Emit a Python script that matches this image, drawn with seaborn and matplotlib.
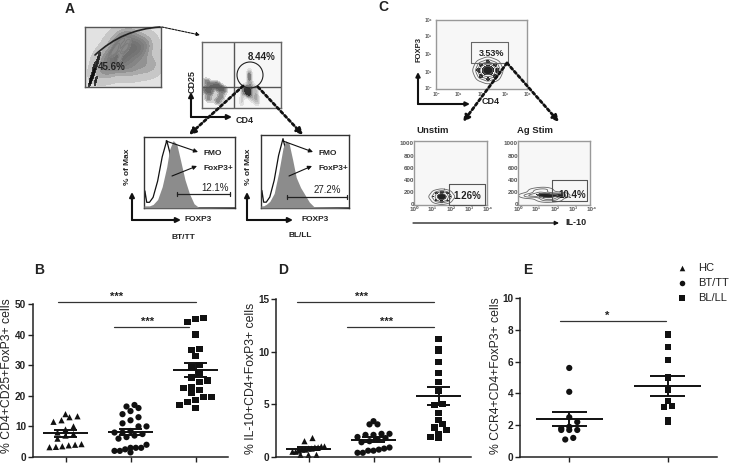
import matplotlib
matplotlib.use("Agg")
import matplotlib.pyplot as plt
import seaborn as sns
import pandas as pd

sns.set_style("ticks")
plt.rcParams['font.family'] = ['Liberation Sans', 'DejaVu Sans']

W, H = 729, 465

groups = ['HC', 'BT/TT', 'BL/LL']
markers = {'HC': '^', 'BT/TT': 'o', 'BL/LL': 's'}

# panel B
b_hc = [14, 13.3, 13, 12, 11.5, 10, 9, 8, 7.5, 7, 6, 4.2, 4, 3.5, 3.3, 3.2, 3.8]
b_bt = [17, 16.5, 16, 15, 14, 13, 12, 11, 10, 10, 8.5, 8, 8, 7.5, 7, 6.5, 6, 4, 3, 3, 3, 2.5, 2, 2, 1.5]
b_bl = [45.5, 45, 44, 40, 35.3, 35, 33, 30, 29.5, 27.5, 26, 25, 24.5, 23, 22.5, 22, 21, 19.5, 19.5, 18.5, 18, 17, 16]
b_mean = [7.7, 8.2, 28.5]
b_sem = [1.05, 1.05, 2.2]

# panel D
d_hc = [1.8, 1.5, 1.0, 1, 0.9, 0.9, 0.8, 0.8, 0.7, 0.7, 0.6, 0.5, 0.5, 0.2, 0.2, 0.2]
d_bt = [3.4, 3.1, 3.1, 2.2, 2.2, 2.1, 2.1, 1.9, 1.8, 1.7, 1.5, 1.4, 0.9, 0.8, 0.7, 0.6, 0.6, 0.4, 0.4]
d_bl = [11.2, 10.2, 10.1, 9, 8, 7.1, 6.3, 5, 4.9, 4.2, 3.5, 3.1, 2.8, 2.6, 2.2, 1.9, 1.8]
d_mean = [0.8, 1.65, 5.8]
d_sem = [0.15, 0.25, 0.85]

# panel E
e_bt = [5.6, 4.1, 2.5, 2.2, 1.9, 1.8, 1.7, 1.7, 1.7, 1.2, 1.1]
e_bl = [7.7, 6.9, 6.1, 5.0, 4.2, 3.5, 3.2, 3.15, 2.3, 2.2]
e_mean = [2.37, 4.45]
e_sem = [0.45, 0.62]

# histogram outlines of panel A
hist_x = [0, 1, 3, 6, 10, 15, 20, 25, 28, 32, 36, 40, 45, 50, 55, 60, 100]
fmo_y = [3, 24, 8, 8, 15, 38, 72, 95, 80, 50, 25, 10, 4, 1, 0, 0, 0]
tt_y = [3, 3, 3, 3, 5, 12, 30, 58, 82, 95, 90, 68, 40, 20, 6, 1, 0]
ll_y = [3, 3, 3, 5, 9, 20, 48, 82, 92, 88, 66, 42, 28, 18, 8, 2, 0]

# samples behind the flow contour plots (x, y in 0-100)
a1_bg_x = [30, 45, 55, 70, 85, 60, 40, 50, 65, 25, 75, 48]
a1_bg_y = [50, 75, 85, 55, 35, 30, 40, 60, 70, 25, 70, 45]
a1_lobe_x = [35, 42, 50, 55, 45, 40, 50, 58]
a1_lobe_y = [55, 70, 80, 65, 45, 60, 62, 78]
a1_gate_x = [7, 10, 13, 16, 8, 12, 18, 14, 11]
a1_gate_y = [8, 18, 28, 40, 14, 34, 50, 10, 24]
a2_x = [59, 60, 52, 68, 60, 50, 70, 60, 51, 69, 60, 57, 63, 56, 64]
a2_y = [24, 22, 30, 28, 40, 8, 8, 48, 20, 18, 54, 26, 32, 28, 14]
a2_low_x = [4, 12, 22, 8, 20, 6, 18, 24, 10, 28]
a2_low_y = [28, 32, 30, 14, 10, 40, 36, 18, 24, 28]
c1_x = [57, 57, 57, 46, 68, 57, 57, 49, 65, 49, 65]
c1_y = [27, 27, 27, 27, 27, 14, 40, 36, 18, 18, 36]
c2_x = [38, 38, 38, 26, 50, 38, 38, 30, 46, 30, 46]
c2_y = [13, 13, 13, 13, 13, 5, 21, 19, 7, 7, 19]
c3_x = [38, 38, 40, 22, 54, 36, 38, 26, 50, 12, 60]
c3_y = [15, 15, 15, 16, 15, 8, 24, 22, 9, 14, 16]

fig = plt.figure(figsize=(W / 100, H / 100), dpi=100)


def px_axes(left, top, right, bottom):
    return fig.add_axes([left / W, 1 - bottom / H, (right - left) / W, (bottom - top) / H])


def column_offsets(vals, bin_h, step):
    # graphpad style: values in one bin sit side by side around the centre
    bins = {}
    for v in sorted(vals):
        bins.setdefault(round(v / bin_h), []).append(v)
    ys, xs = [], []
    for row in bins.values():
        n = len(row)
        # wide rows get squeezed so they stay inside the mean line
        s = min(step, 4 * step / max(n - 1, 1))
        for k, v in enumerate(row):
            ys.append(v)
            xs.append((k - (n - 1) / 2) * s)
    return xs, ys


def scatter_panel(box, names, series, means, sems, ymax, ticks, ylabel, label_x, label_y, bin_h):
    ax = px_axes(*box)
    n = len(names)
    step = 8 / ((box[2] - box[0]) / n)
    frames = []
    for i, (name, vals) in enumerate(zip(names, series)):
        xs, ys = column_offsets(vals, bin_h, step)
        frames.append(pd.DataFrame({'pos': [i + x for x in xs], 'value': ys, 'group': name}))
    sns.scatterplot(data=pd.concat(frames), x='pos', y='value', style='group', markers=markers,
                    color='#111111', s=20, linewidth=0, legend=False, ax=ax, clip_on=False)
    for i, (m, s) in enumerate(zip(means, sems)):
        ax.hlines(m, i - 0.34, i + 0.34, color='#111111', lw=1.4, zorder=5)
        ax.hlines([m - s, m + s], i - 0.18, i + 0.18, color='#111111', lw=1.4, zorder=5)
        ax.vlines(i, m - s, m + s, color='#111111', lw=1.4, zorder=5)
    ax.set_xlim(-0.5, n - 0.5)
    ax.set_ylim(0, ymax)
    ax.set_xticks(range(n))
    ax.set_xticklabels([])
    ax.set_yticks(ticks)
    ax.set_xlabel('')
    ax.set_ylabel(ylabel, fontsize=8.8, color='#222222')
    ax.yaxis.set_label_coords((label_x - box[0]) / (box[2] - box[0]),
                              (box[3] - label_y) / (box[3] - box[1]))
    ax.tick_params(axis='both', length=3.5, width=1.0, pad=1.5, color='#222222')
    for lab in ax.get_yticklabels():
        lab.set_fontsize(7.2)
        lab.set_fontweight('bold')
        lab.set_color('#222222')
    sns.despine(ax=ax)
    for side in ['left', 'bottom']:
        ax.spines[side].set_linewidth(1.1)
        ax.spines[side].set_color('#222222')
    ax.patch.set_alpha(0)
    return ax


scatter_panel((33, 304, 228, 457), groups, [b_hc, b_bt, b_bl], b_mean, b_sem, 50,
              [0, 10, 20, 30, 40, 50], '% CD4+CD25+FoxP3+ cells', 13, 376, 3)
scatter_panel((276, 299, 471, 457), groups, [d_hc, d_bt, d_bl], d_mean, d_sem, 15,
              [0, 5, 10, 15], '% IL-10+CD4+FoxP3+ cells', 257, 378, 0.75)
scatter_panel((520, 298, 717, 457), groups[1:], [e_bt, e_bl], e_mean, e_sem, 10,
              [0, 2, 4, 6, 8, 10], '% CCR4+CD4+FoxP3+ cells', 502, 376, 0.5)


def flow_box(box, edge='#777777', lw=1.0):
    ax = px_axes(*box)
    ax.set_facecolor('#f7f7f7')
    for sp in ax.spines.values():
        sp.set_color(edge)
        sp.set_linewidth(lw)
    return ax


def finish_box(ax):
    ax.set_xlim(0, 100)
    ax.set_ylim(0, 100)
    ax.set_xticks([])
    ax.set_yticks([])
    ax.set_xlabel('')
    ax.set_ylabel('')


full = ((0, 100), (0, 100))
bg_cmap = sns.blend_palette(['#d8d8d8', '#8a8a8a', '#6e6e6e'], as_cmap=True)
low_cmap = sns.blend_palette(['#e4e4e4', '#8a8a8a', '#5a5a5a'], as_cmap=True)
dark_cmap = sns.blend_palette(['#444444', '#000000'], as_cmap=True)

# A, first gate plot
ax = flow_box((85, 27, 161, 87), edge='#555555')
ax.set_facecolor('#e2e2e2')
sns.kdeplot(x=a1_bg_x, y=a1_bg_y, fill=True, cmap=bg_cmap, levels=8, thresh=0.02, bw_adjust=1.0,
            ax=ax, clip=full)
sns.kdeplot(x=a1_lobe_x, y=a1_lobe_y, fill=True, color='white', levels=[0.3, 1], bw_adjust=0.8, alpha=1, ax=ax, clip=full)
sns.kdeplot(x=a1_lobe_x, y=a1_lobe_y, color='#777777', levels=4, thresh=0.3, bw_adjust=0.8, linewidths=0.5, ax=ax)
sns.kdeplot(x=a1_gate_x, y=a1_gate_y, fill=True, cmap=dark_cmap, levels=4, thresh=0.12, bw_adjust=0.55,
            ax=ax, clip=full)
finish_box(ax)

# A, CD4 vs CD25 quadrant plot
ax = flow_box((202, 42, 281, 108), edge='#666666')
sns.kdeplot(x=a2_low_x, y=a2_low_y, fill=True, cmap=low_cmap, levels=6, thresh=0.12, bw_adjust=0.7, ax=ax, clip=full)
sns.kdeplot(x=a2_x, y=a2_y, fill=True, cmap='Greys', levels=8, thresh=0.05, bw_adjust=0.7, ax=ax, clip=full)
ax.axvline(41, color='#555555', lw=1)
ax.axhline(32, color='#555555', lw=1)
finish_box(ax)

# A, histograms
for box, filled in [((144, 137, 235, 208), tt_y), ((261, 135, 349, 208), ll_y)]:
    ax = flow_box(box, edge='#333333')
    ax.set_facecolor('white')
    sns.lineplot(x=hist_x, y=fmo_y, color='#111111', lw=0.9, ax=ax, errorbar=None, zorder=2)
    ax.fill_between(hist_x, filled, color='#8c8c8c', lw=0, zorder=3)
    finish_box(ax)

# C, contour plots
ax = flow_box((436, 20, 527, 89), edge='#999999')
sns.kdeplot(x=c1_x, y=c1_y, color='#666666', levels=6, thresh=0.1, bw_adjust=0.9, linewidths=0.6, ax=ax)
sns.kdeplot(x=c1_x, y=c1_y, fill=True, cmap=dark_cmap, levels=[0.65, 1], bw_adjust=0.7, ax=ax)
finish_box(ax)

for box, xs, ys in [((414, 141, 487, 205), c2_x, c2_y), ((518, 141, 590, 205), c3_x, c3_y)]:
    ax = flow_box(box, edge='#999999')
    sns.kdeplot(x=xs, y=ys, color='#666666', levels=5, thresh=0.1, bw_adjust=0.9, linewidths=0.6, ax=ax)
    sns.kdeplot(x=xs, y=ys, fill=True, cmap=dark_cmap, levels=[0.72, 1], bw_adjust=0.7, ax=ax)
    finish_box(ax)

# overlay in pixel coordinates for labels, arrows and brackets
ov = fig.add_axes([0, 0, 1, 1], zorder=20)
ov.set_xlim(0, W)
ov.set_ylim(H, 0)
ov.axis('off')


def t(x, y, s, size=6.5, weight='bold', ha='center', color='#222222', rot=0):
    ov.text(x, y, s, fontsize=size, fontweight=weight, ha=ha, va='center', color=color, rotation=rot)


def arrow(x0, y0, x1, y1, lw=1.0, ls='-', ms=7):
    ov.annotate('', xy=(x1, y1), xytext=(x0, y0),
                arrowprops=dict(arrowstyle='-|>', lw=lw, color='#111111', linestyle=ls,
                                mutation_scale=ms, shrinkA=0, shrinkB=0))


# panel letters
for x, y, s in [(70, 9, 'A'), (383, 7, 'C'), (39, 270, 'B'), (283, 270, 'D'), (528, 270, 'E')]:
    t(x, y, s, size=10)

# legend
leg_y = [268, 283, 298]
for name, y in zip(groups, leg_y):
    ov.scatter([682], [y], marker=markers[name], s=16, color='#111111', linewidths=0)
    t(698, y, name, size=8, weight='normal', ha='left')

# significance bars
for x0, x1, y in [(58, 196, 302), (114, 189, 327), (297, 434, 302), (347, 434, 327), (560, 666, 321)]:
    ov.plot([x0, x1], [y, y], color='#333333', lw=0.9)
t(117, 296.5, '***', size=8)
t(148, 321.5, '***', size=8)
t(362, 296.5, '***', size=8)
t(387, 321.5, '***', size=8)
t(607, 315.5, '*', size=8)

# panel A text and arrows
ov.annotate('', xy=(160, 27), xytext=(95, 55),
            arrowprops=dict(arrowstyle='-', lw=1.2, color='#222222', shrinkA=0, shrinkB=0,
                            connectionstyle='arc3,rad=-0.18'))
t(112, 67, '45.6%', size=7)
t(262, 57, '8.44%', size=7)
ov.add_patch(plt.Circle((250, 75), 13, fill=False, ec='#222222', lw=0.8))
t(192, 82, 'CD25', rot=90)
t(245, 120, 'CD4')
arrow(191, 117, 191, 92, lw=1.5)
arrow(191, 117, 232, 117, lw=1.5)
arrow(162, 27, 200, 35, lw=0.8, ls=(0, (2, 1)), ms=5)
arrow(243, 86, 189, 135, lw=2, ls=(0, (1, 1)), ms=9)
arrow(258, 87, 303, 135, lw=2, ls=(0, (1, 1)), ms=9)

for x0, pct, pct_x, pct_y, bar_y, bar, ax_x, ax_end, lab_x, txt_x, max_x in [
        (144, '12.1%', 215, 188, 194, (177, 230), 132, 181, 198, 204, 128),
        (261, '27.2%', 327, 190, 197, (287, 347), 247, 293, 315, 319, 249)]:
    t(max_x, 167, '% of Max', size=6, rot=90)
    t(txt_x, 153, 'FMO', size=6, ha='left')
    t(txt_x, 168, 'FoxP3+', size=6, ha='left')
    arrow(x0 + 22, 141, txt_x - 6, 152, lw=0.8, ms=6)
    arrow(x0 + 28, 176, txt_x - 7, 166, lw=0.8, ms=6)
    t(pct_x, pct_y, pct, size=7, weight='normal')
    ov.plot(bar, [bar_y, bar_y], color='#222222', lw=0.9)
    ov.plot([bar[0], bar[0]], [bar_y - 2, bar_y + 2], color='#222222', lw=0.9)
    ov.plot([bar[1], bar[1]], [bar_y - 2, bar_y + 2], color='#222222', lw=0.9)
    arrow(ax_x, 220, ax_x, 192, lw=1.5)
    arrow(ax_x, 220, ax_end, 220, lw=1.5)
    t(lab_x, 219, 'FOXP3', size=6)
t(183, 237, 'BT/TT', size=6)
t(300, 235, 'BL/LL', size=6)

# panel C text and arrows
ov.plot([471, 508, 508, 471, 471], [42, 42, 63, 63, 42], color='#666666', lw=0.8)
t(492, 53, '3.53%', size=6.5)
t(419, 50, 'FOXP3', size=5.5, rot=90)
t(491, 101, 'CD4', size=6.5)
arrow(418, 104, 418, 72, lw=1.5, ms=6)
arrow(418, 104, 470, 104, lw=1.5, ms=6)
arrow(507, 63, 463, 122, lw=2, ls=(0, (1, 1)), ms=9)
arrow(507, 63, 559, 122, lw=2, ls=(0, (1, 1)), ms=9)
t(433, 130, 'Unstim', size=6.8)
t(535, 130, 'Ag Stim', size=6.8)
for x0, x1, y0, y1, s, tx, ty in [(449, 485, 184, 205, '1.26%', 467, 196), (552, 587, 180, 201, '10.4%', 572, 195)]:
    ov.plot([x0, x1, x1, x0, x0], [y0, y0, y1, y1, y0], color='#555555', lw=0.8)
    t(tx, ty, s, size=7)
arrow(413, 223, 559, 223, lw=0.9, ms=6)
t(565, 222, 'IL-10', size=6.5, ha='left')

# flow tick labels
for x, y, s in [(428, 20, '10⁴'), (428, 37, '10³'), (428, 54, '10²'), (428, 72, '10¹'), (428, 89, '10⁰')]:
    t(x, y, s, size=3.5, weight='normal')
for x, s in [(436, '10⁰'), (458, '10¹'), (481, '10²'), (505, '10³'), (527, '10⁴')]:
    t(x, 94, s, size=3.5, weight='normal')
for x0 in [414, 518]:
    for y, s in [(143, '1000'), (156, '800'), (168, '600'), (180, '400'), (192, '200'), (204, '0')]:
        t(x0, y, s, size=4.5, ha='right', color='#555555')
    for i, s in enumerate(['10⁰', '10¹', '10²', '10³', '10⁴']):
        t(x0 + i * 18.5, 209, s, size=4.5, color='#555555')

fig.savefig('out.png', dpi=100)
